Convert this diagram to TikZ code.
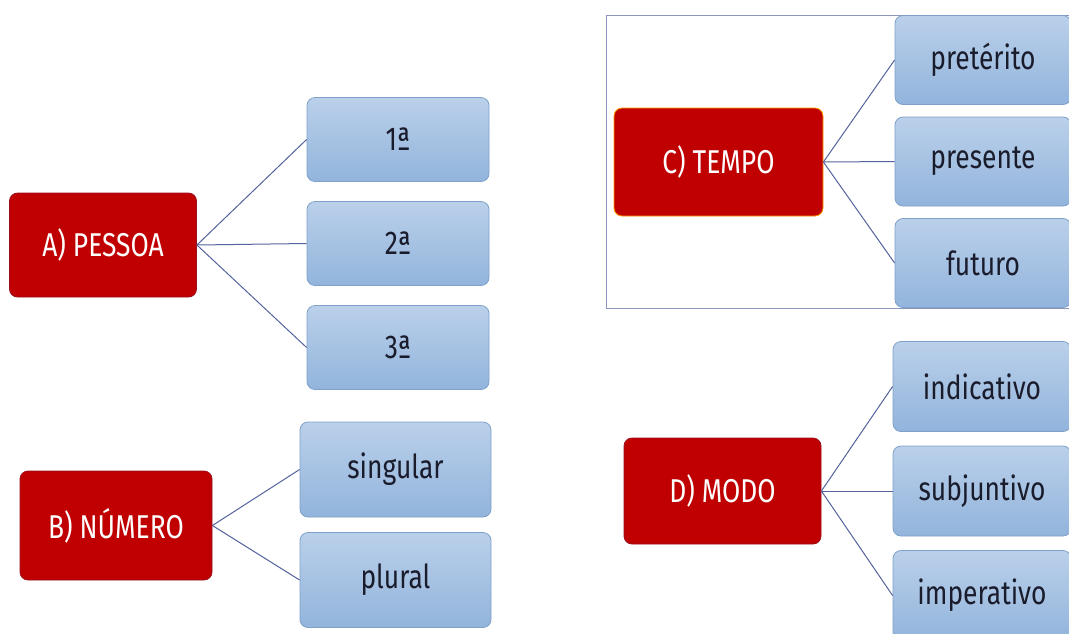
\documentclass[tikz,border=0pt]{standalone}
\usepackage{fontspec}
\setmainfont{Fira Sans}[FakeStretch=0.8]
\usetikzlibrary{positioning}
\definecolor{boxred}{HTML}{C00000}
\definecolor{redline}{HTML}{9A1020}
\definecolor{leaftop}{HTML}{BAD0EA}
\definecolor{leafbot}{HTML}{92B4DC}
\definecolor{leafline}{HTML}{7FA0C8}
\definecolor{leaftext}{HTML}{1A1C2C}
\definecolor{linkcol}{HTML}{55639C}
\definecolor{framecol}{HTML}{8A96BC}

\begin{document}
\begin{tikzpicture}[x=1pt,y=-1pt,on grid,
    topic/.style={draw=redline,line width=0.8pt,fill=boxred,rounded corners=8pt,
      text=white,minimum width=187pt,minimum height=104pt,
      font=\fontsize{33}{33}\selectfont},
    leaf/.style={draw=leafline,line width=0.8pt,top color=leaftop,bottom color=leafbot,
      rounded corners=8pt,text=leaftext,font=\fontsize{33}{33}\selectfont},
    link/.style={draw=linkcol,line width=1pt}]
  \useasboundingbox (0,0) rectangle (1069,633);
  \fill[white] (0,0) rectangle (1069,633);

  % A) pessoa
  \node[topic] (pes) at (103,245) {A) PESSOA};
  \begin{scope}[node distance=104pt,leaf/.append style={minimum width=182pt,minimum height=84pt}]
    \node[leaf] (p1) at (398,139.5) {1ª};
    \node[leaf] (p2) [below=of p1] {2ª};
    \node[leaf] (p3) [below=of p2] {3ª};
  \end{scope}
  \path[link] (pes.east) edge (p1.west)
    edge (p2.west)
    edge (p3.west);

  % B) numero
  \node[topic,minimum width=192pt,minimum height=109pt] (num) at (116,525.5) {B) NÚMERO};
  \begin{scope}[node distance=110.5pt,leaf/.append style={minimum width=191pt,minimum height=95pt}]
    \node[leaf] (n1) at (395.5,469.5) {singular};
    \node[leaf] (n2) [below=of n1] {plural};
  \end{scope}
  \path[link] (num.east) edge (n1.west)
    edge (n2.west);

  % C) tempo, in a frame
  \draw[framecol,line width=0.8pt] (606,15) rectangle (1080,308);
  \node[topic,draw=orange!80!yellow,minimum width=209pt,minimum height=108pt] (tem) at (718.5,162) {C) TEMPO};
  \begin{scope}[node distance=101.5pt,leaf/.append style={minimum width=176pt,minimum height=89pt}]
    \node[leaf] (t1) at (983,60) {pretérito};
    \node[leaf] (t2) [below=of t1] {presente};
    \node[leaf] (t3) [below=of t2] {futuro};
  \end{scope}
  \path[link] (tem.east) edge (t1.west)
    edge (t2.west)
    edge (t3.west);

  % D) modo
  \node[topic,minimum width=197pt,minimum height=106pt] (mod) at (722.5,491) {D) MODO};
  \begin{scope}[node distance=104.5pt,leaf/.append style={minimum width=178pt,minimum height=90pt}]
    \node[leaf] (m1) at (982,386.5) {indicativo};
    \node[leaf] (m2) [below=of m1] {subjuntivo};
    \node[leaf] (m3) [below=of m2] {imperativo};
  \end{scope}
  \path[link] (mod.east) edge (m1.west)
    edge (m2.west)
    edge (m3.west);
\end{tikzpicture}
\end{document}
